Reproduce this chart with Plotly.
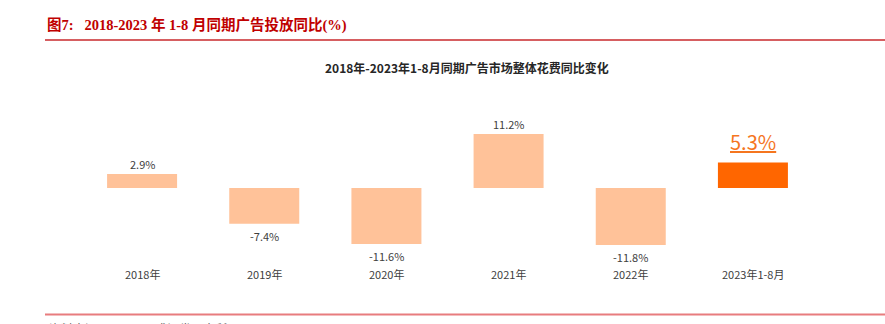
import plotly.graph_objects as go

categories = ["2018年", "2019年", "2020年", "2021年", "2022年", "2023年1-8月"]
values = [2.9, -7.4, -11.6, 11.2, -11.8, 5.3]
labels = ["2.9%", "-7.4%", "-11.6%", "11.2%", "-11.8%", "5.3%"]
bar_colors = ["#FFC299", "#FFC299", "#FFC299", "#FFC299", "#FFC299", "#FF6600"]

W, H = 885, 324
L, R, T, B = 81, 71, 110, 34
PW, PH = W - L - R, H - T - B

def px_x(p):
    return (p - L) / PW

def px_y(p):
    return (H - B - p) / PH

CJK = "Noto Sans CJK SC, Noto Sans, sans-serif"

fig = go.Figure()
fig.add_trace(go.Bar(
    x=categories, y=values, marker=dict(color=bar_colors, line=dict(width=0)),
    width=0.573, hoverinfo="skip", cliponaxis=False,
))

ann = []
for i, (c, v, t) in enumerate(zip(categories, values, labels)):
    if i == len(categories) - 1:
        ann.append(dict(x=c, y=v, xref="x", yref="y", text="<u>" + t + "</u>",
                        showarrow=False, yanchor="middle", yshift=21,
                        font=dict(family=CJK, size=20, color="#F5761F")))
    elif v >= 0:
        ann.append(dict(x=c, y=v, xref="x", yref="y", text=t, showarrow=False,
                        yanchor="middle", yshift=10,
                        font=dict(family=CJK, size=11, color="#404040")))
    else:
        ann.append(dict(x=c, y=v, xref="x", yref="y", text=t, showarrow=False,
                        yanchor="middle", yshift=-12,
                        font=dict(family=CJK, size=11, color="#404040")))
    ann.append(dict(x=c, y=px_y(273.5), xref="x", yref="paper", text=c, showarrow=False,
                    yanchor="middle", font=dict(family=CJK, size=11, color="#404040")))

ann.append(dict(x=px_x(467), y=px_y(67), xref="paper", yref="paper",
                text="<b>2018年-2023年1-8月同期广告市场整体花费同比变化</b>", showarrow=False,
                xanchor="center", yanchor="middle",
                font=dict(family=CJK, size=12, color="#262626")))
ann.append(dict(x=px_x(45), y=px_y(25), xref="paper", yref="paper",
                text="<b>图7:   2018-2023 年 1-8 月同期广告投放同比(%)</b>", showarrow=False,
                xanchor="left", yanchor="middle",
                font=dict(family="Liberation Serif, Noto Sans CJK SC, serif", size=14.5, color="#C00000")))
ann.append(dict(x=px_x(47), y=px_y(318), xref="paper", yref="paper",
                text="资料来源：CTR，国盛证券研究所", showarrow=False,
                xanchor="left", yanchor="top",
                font=dict(family=CJK, size=12, color="#595959")))

shapes = [
    dict(type="line", xref="paper", yref="paper", x0=px_x(45), x1=px_x(885),
         y0=px_y(40), y1=px_y(40), line=dict(color="#C8282D", width=1.5)),
    dict(type="line", xref="paper", yref="paper", x0=px_x(45), x1=px_x(885),
         y0=px_y(314.5), y1=px_y(314.5), line=dict(color="#E87C7E", width=2)),
]

ymax = (188 - T) / 4.82
ymin = -(H - B - 188) / 4.82

fig.update_layout(
    width=W, height=H, margin=dict(l=L, r=R, t=T, b=B, pad=0),
    paper_bgcolor="white", plot_bgcolor="white", showlegend=False,
    xaxis=dict(type="category", range=[-0.5, 5.5], showticklabels=False,
               showgrid=False, zeroline=False, showline=False, ticks=""),
    yaxis=dict(range=[ymin, ymax], showticklabels=False, showgrid=False,
               zeroline=False, showline=False, ticks=""),
    annotations=ann, shapes=shapes,
)

fig.write_html("out.html")
